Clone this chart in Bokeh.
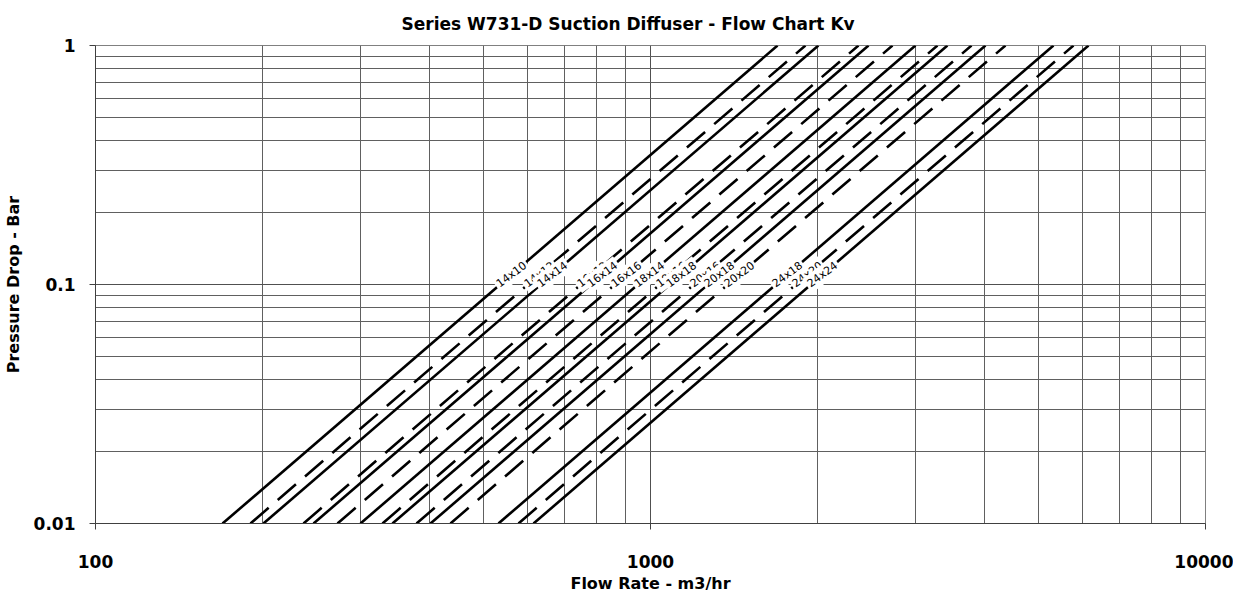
import numpy as np
from bokeh.plotting import figure
from bokeh.models import ColumnDataSource, FixedTicker
from bokeh.core.properties import value
from bokeh.embed import file_html
from bokeh.resources import INLINE

# Sizes and flow coefficients (Kv, m3/hr at 1 bar)
sizes = ["14x10", "14x12", "14x14", "16x12", "16x14", "16x16",
         "18x14", "18x16", "18x18", "20x16", "20x18", "20x20",
         "24x18", "24x20", "24x24"]
kv = [1694, 1902, 2007, 2370, 2471, 2729,
      3002, 3289, 3428, 3788, 4014, 4361,
      5322, 5783, 6155]
dashed = [False, True, False, True, False, True,
          False, True, False, True, False, True,
          False, True, False]
dp_range = [0.01, 1.0]
label_dp = 0.11

x_major = [100, 1000, 10000]
x_minor = [200, 300, 400, 500, 600, 700, 800, 900,
           2000, 3000, 4000, 5000, 6000, 7000, 8000, 9000]
y_major = [0.01, 0.1, 1]
y_minor = [0.02, 0.03, 0.04, 0.05, 0.06, 0.07, 0.08, 0.09,
           0.2, 0.3, 0.4, 0.5, 0.6, 0.7, 0.8, 0.9]

FONT = "DejaVu Sans"

p = figure(x_axis_type="log", y_axis_type="log",
           x_range=(100, 10000), y_range=(0.01, 1),
           frame_width=1110, frame_height=478,
           min_border_left=87, min_border_right=28,
           min_border_top=37, min_border_bottom=73,
           output_backend="svg", toolbar_location=None)

p.title.text = "Series W731-D Suction Diffuser - Flow Chart Kv"
p.title.align = "left"
p.title.text_font = FONT
p.title.text_font_size = "17px"
p.title.text_font_style = "bold"
p.title.text_color = "black"
p.title.standoff = 23
p.title.offset = 306

p.xaxis.ticker = FixedTicker(ticks=x_major, minor_ticks=x_minor)
p.yaxis.ticker = FixedTicker(ticks=y_major, minor_ticks=y_minor)
p.xaxis.major_label_overrides = {100: "100", 1000: "1000", 10000: "10000"}
p.yaxis.major_label_overrides = {0.01: "0.01", 0.1: "0.1", 1: "1"}

for ax in (p.xaxis, p.yaxis):
    ax.major_label_text_font = FONT
    ax.major_label_text_font_style = "bold"
    ax.major_label_text_font_size = "17px"
    ax.major_label_text_color = "black"
    ax.axis_label_text_font = FONT
    ax.axis_label_text_font_style = "bold"
    ax.axis_label_text_font_size = "16px"
    ax.axis_label_text_color = "black"
    ax.minor_tick_line_color = None
    ax.major_tick_in = 0
    ax.major_tick_out = 6
    ax.axis_line_color = "#404040"
    ax.major_tick_line_color = "#404040"

p.xaxis.axis_label = "Flow Rate - m3/hr"
p.yaxis.axis_label = "Pressure Drop - Bar"
p.xaxis.major_label_standoff = 25
p.xaxis.axis_label_standoff = 3
p.yaxis.major_label_standoff = 14
p.yaxis.axis_label_standoff = 8

for g in (p.xgrid, p.ygrid):
    g.grid_line_color = "#505050"
    g.grid_line_width = 1
    g.minor_grid_line_color = "#606060"
    g.minor_grid_line_width = 1

p.outline_line_color = "#808080"
p.outline_line_width = 1
p.background_fill_color = "white"
p.border_fill_color = "white"

for k, d in zip(kv, dashed):
    xs = [k * np.sqrt(v) for v in dp_range]
    p.line(xs, dp_range, line_color="black", line_width=2.6,
           line_dash="24 12" if d else "solid")

lab = ColumnDataSource(dict(
    x=[k * np.sqrt(label_dp) for k in kv],
    y=[label_dp] * len(kv),
    t=sizes))
p.text(x="x", y="y", text="t", source=lab, angle=0.64,
       text_align="center", text_baseline="middle",
       text_font_size="11px", text_color="black",
       background_fill_color="white", padding=2,
       text_font=value(FONT))

with open("out.html", "w") as f:
    f.write(file_html(p, INLINE))
